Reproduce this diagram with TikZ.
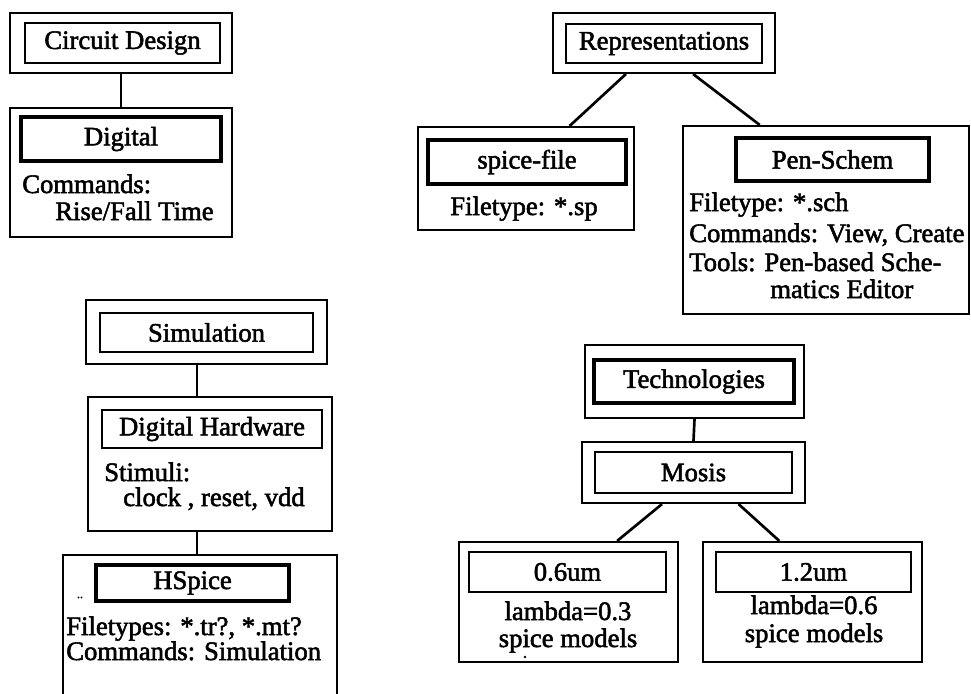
\documentclass[tikz,border=0pt]{standalone}
\usepackage{fontspec}
\setmainfont{Liberation Serif}[FakeBold=2]
\usetikzlibrary{fit,calc}
\begin{document}
\begin{tikzpicture}[x=0.75pt,y=-0.75pt,
  every node/.style={font=\fontsize{20}{24}\selectfont, inner sep=0pt},
  outerbox/.style={draw, line width=1.6pt, inner sep=0pt},
  thinbox/.style={draw, line width=1.6pt, inner sep=0pt},
  thickbox/.style={draw, line width=3.4pt, inner sep=0pt},
  conn/.style={line width=2pt},
  txt/.style={anchor=base west}]
\useasboundingbox (0,0) rectangle (971,693);

% ---------- Circuit Design ----------
\node[outerbox, fit={(10,13) (232,73)}] (cdo) {};
\node[thinbox, fit={(25,23) (220,63)}] (cdi) {};
\node (cdt) at (cdi) {Circuit Design};
\node[outerbox, fit={(10,108) (232,237)}] (digo) {};
\node[thickbox, fit={(21,117) (221,161)}] (digi) {};
\node (digt) at (digi) {Digital};
\node[txt] (digt1) at (22,193) {Commands:};
\node[txt] (digt2) at (55,220) {Rise/Fall Time};
\draw[conn] (cdo.south) -- (digo.north);

% ---------- Representations ----------
\node[outerbox, fit={(553,13) (775,73)}] (repo) {};
\node[thinbox, fit={(566,24) (762,63)}] (repi) {};
\node (rept) at (repi) {Representations};
\node[outerbox, fit={(418,127) (634,230)}] (spo) {};
\node[thickbox, fit={(428,140) (626,184)}] (spi) {};
\node (spit) at (spi) {spice-file};
\node[anchor=base] (spt) at (524,215) {Filetype: *.sp};
\node[outerbox, fit={(683,126) (969,314)}] (peo) {};
\node[thickbox, fit={(736,138) (929,181)}] (pei) {};
\node (peit) at (pei) {Pen-Schem};
\node[txt] (pet1) at (689,211) {Filetype: *.sch};
\node[txt] (pet2) at (689,242) {Commands: View, Create};
\node[txt] (pet3) at (689,271) {Tools: Pen-based Sche-};
\node[txt] (pet4) at (770,298) {matics Editor};
\draw[conn] ($(repo.south west)!0.33!(repo.south east)$) -- ($(spo.north west)!0.70!(spo.north east)$);
\draw[conn] ($(repo.south west)!0.63!(repo.south east)$) -- ($(peo.north west)!0.27!(peo.north east)$);

% ---------- Simulation ----------
\coordinate (simx) at (197,0);
\node[outerbox, fit={(86,300) (327,364)}] (simo) {};
\node[thinbox, fit={(100,313) (313,352)}] (simi) {};
\node (simt) at (simi) {Simulation};
\node[outerbox, fit={(88,397) (332,531)}] (dho) {};
\node[thinbox, fit={(102,410) (322,448)}] (dhi) {};
\node (dht) at (dhi) {Digital Hardware};
\node[txt] (dht1) at (104,481) {Stimuli:};
\node[txt] (dht2) at (123,506) {clock , reset, vdd};
\coordinate (hsbl) at (63,694);
\coordinate (hsbr) at (337,694);
\coordinate (hstop) at (197,555);
\draw[line width=1.6pt] (hsbl) |- (hstop) -| (hsbr);
\node[thickbox, fit={(96,565) (289,601)}] (hsi) {};
\node (hst) at (hsi) {HSpice};
\node[anchor=base, font=\fontsize{9}{10}\selectfont] (dots) at (80,598) {..};
\node[txt] (hst1) at (66,635) {Filetypes: *.tr?, *.mt?};
\node[txt] (hst2) at (66,660) {Commands: Simulation};
\draw[conn] (simo.south -| simx) -- (dho.north -| simx);
\draw[conn] (dho.south -| simx) -- (hstop);

% ---------- Technologies ----------
\node[outerbox, fit={(585,345) (804,418)}] (teo) {};
\node[thickbox, fit={(594,360) (794,403)}] (tei) {};
\node (tet) at (tei) {Technologies};
\node[outerbox, fit={(582,442) (805,503)}] (moo) {};
\node[thinbox, fit={(595,452) (792,493)}] (moi) {};
\node (mot) at (moi) {Mosis};
\node[outerbox, fit={(459,542) (678,662)}] (ao) {};
\node[thinbox, fit={(469,552) (666,592)}] (ai) {};
\node (ait) at (ai) {0.6um};
\node[anchor=base] (at1) at (568,620) {lambda=0.3};
\node[anchor=base] (at2) at (568,647) {spice models};
\node[outerbox, fit={(703,542) (922,662)}] (bo) {};
\node[thinbox, fit={(716,552) (911,592)}] (bi) {};
\node (bit) at (bi) {1.2um};
\node[anchor=base] (bt1) at (814,614) {lambda=0.6};
\node[anchor=base] (bt2) at (814,642) {spice models};
\draw[conn] (teo.south) -- (moo.north);
\draw[conn] ($(moo.south west)!0.36!(moo.south east)$) -- ($(ao.north west)!0.72!(ao.north east)$);
\draw[conn] ($(moo.south west)!0.70!(moo.south east)$) -- ($(bo.north west)!0.35!(bo.north east)$);

\fill (525,657) circle (1.3);
\end{tikzpicture}
\end{document}
